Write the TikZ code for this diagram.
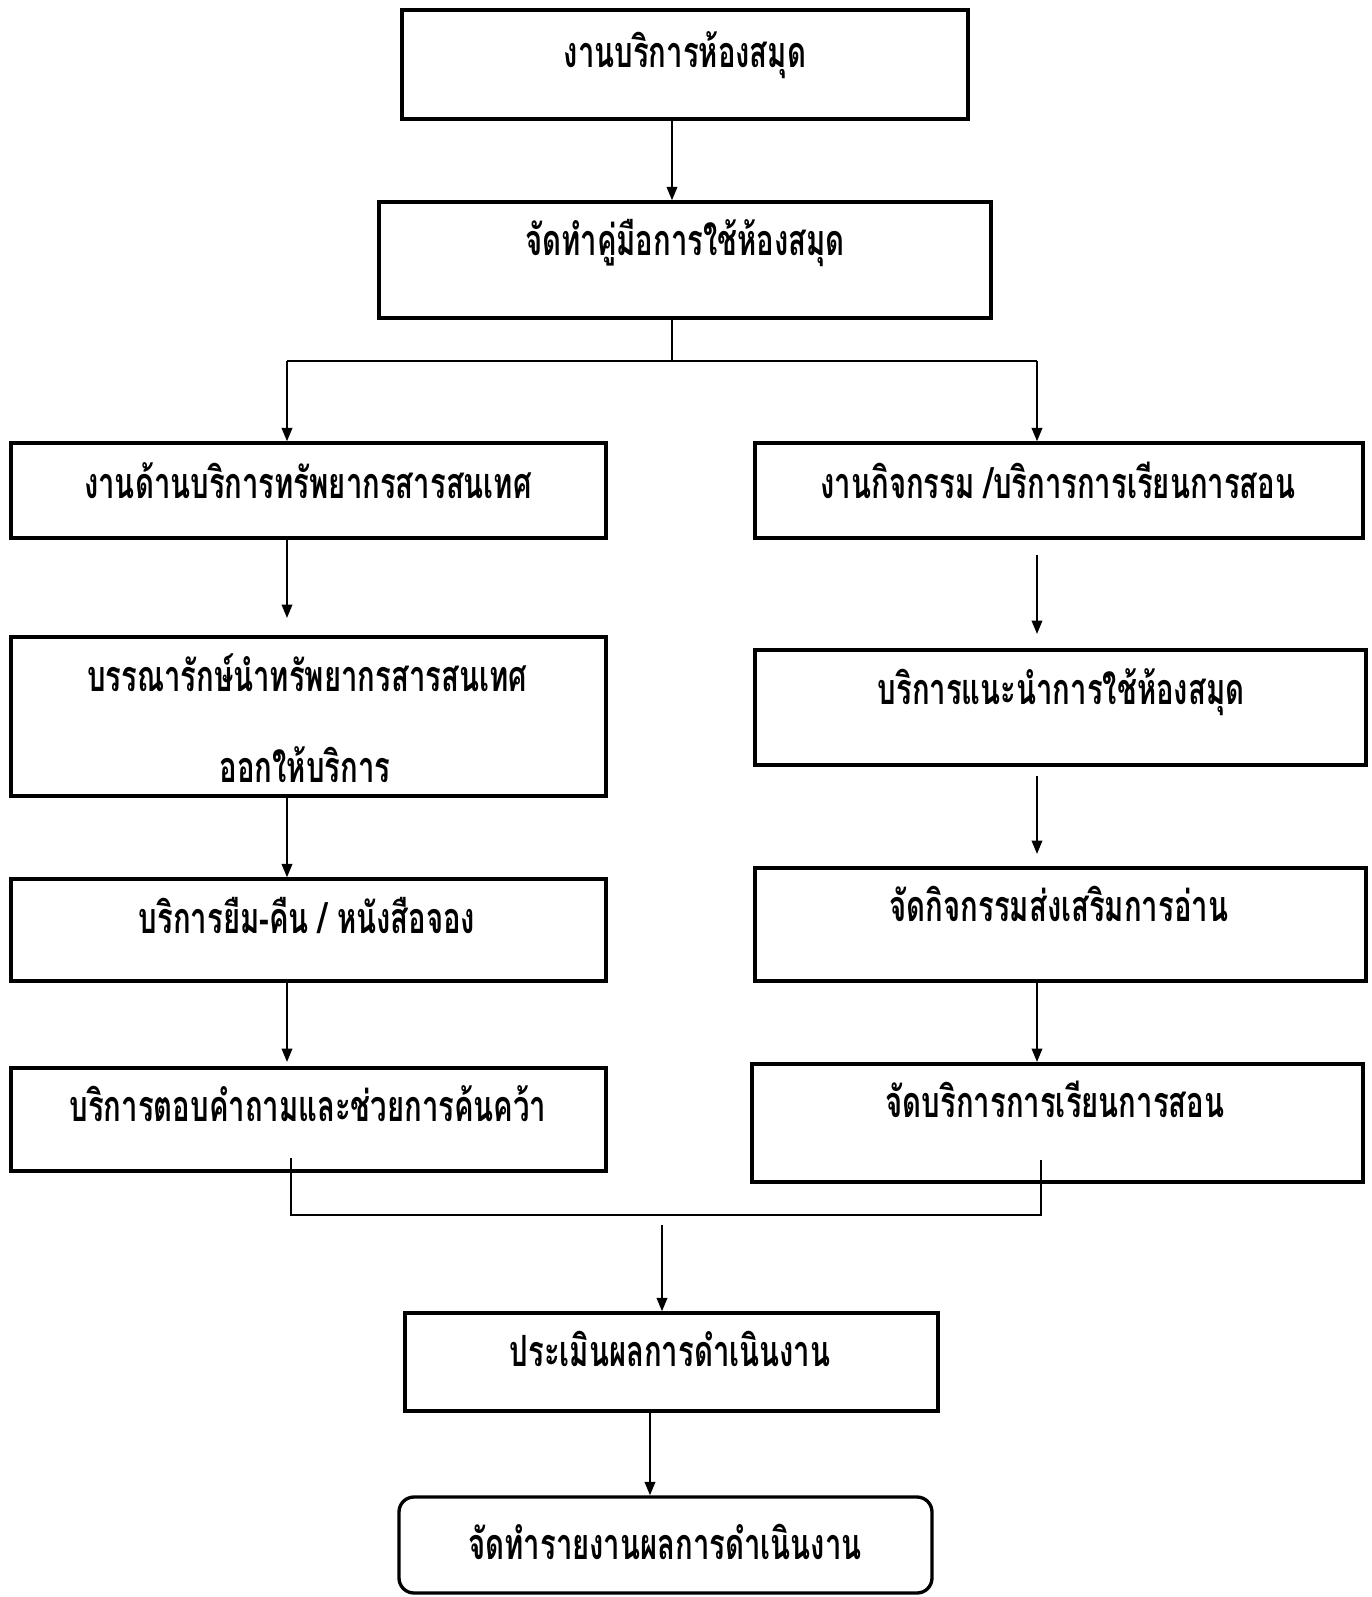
\documentclass[tikz,border=0pt]{standalone}
\usepackage{fontspec}
\newfontfamily\thaifont[Script=Thai,FakeStretch=0.68]{Loma}
\usetikzlibrary{arrows.meta,fit}
\begin{document}
\begin{tikzpicture}[x=0.02cm,y=-0.02cm,
  box/.style={draw, line width=1.9pt, inner sep=0pt},
  lbl/.style={font=\thaifont\bfseries\fontsize{24.5}{28}\selectfont, inner sep=0pt, anchor=base},
  arr/.style={line width=1.25pt, -{Triangle[length=0.27cm,width=0.21cm]}},
  ln/.style={line width=1.25pt}]
\useasboundingbox (0,0) rectangle (1372,1597);
% boxes
\node[box, fit={(402,10)(968,119)}] (b1) {};
\node[box, fit={(379,202)(991,318)}] (b2) {};
\node[box, fit={(11,443)(606,538)}] (l1) {};
\node[box, fit={(11,637)(606,796)}] (l2) {};
\node[box, fit={(11,879)(606,981)}] (l3) {};
\node[box, fit={(11,1068)(606,1171)}] (l4) {};
\node[box, fit={(755,443)(1363,538)}] (r1) {};
\node[box, fit={(755,650)(1366,765)}] (r2) {};
\node[box, fit={(755,868)(1366,981)}] (r3) {};
\node[box, fit={(752,1064)(1363,1182)}] (r4) {};
\node[box, fit={(405,1313)(938,1411)}] (ev) {};
\node[box, rounded corners=0.3cm, fit={(399,1497)(932,1593)}] (rp) {};
% labels
\node[lbl] (t1) at (685,67) {งานบริการห้องสมุด};
\node[lbl] (t2) at (685,255) {จัดทำคู่มือการใช้ห้องสมุด};
\node[lbl] (tl1) at (308,498) {งานด้านบริการทรัพยากรสารสนเทศ};
\node[lbl] (tl2a) at (307,691) {บรรณารักษ์นำทรัพยากรสารสนเทศ};
\node[lbl] (tl2b) at (305,782) {ออกให้บริการ};
\node[lbl] (tl3) at (307,933) {บริการยืม-คืน / หนังสือจอง};
\node[lbl] (tl4) at (308,1121) {บริการตอบคำถามและช่วยการค้นคว้า};
\node[lbl] (tr1) at (1058,498) {งานกิจกรรม /บริการการเรียนการสอน};
\node[lbl] (tr2) at (1061,704) {บริการแนะนำการใช้ห้องสมุด};
\node[lbl] (tr3) at (1059,921) {จัดกิจกรรมส่งเสริมการอ่าน};
\node[lbl] (tr4) at (1055,1117) {จัดบริการการเรียนการสอน};
\node[lbl] (te) at (670,1366) {ประเมินผลการดำเนินงาน};
\node[lbl] (tf) at (665,1559) {จัดทำรายงานผลการดำเนินงาน};
% connectors
\coordinate (xa) at (672,0);
\coordinate (jl) at (287,361);
\coordinate (jr) at (1037,361);
\coordinate (jm) at (672,361);
\draw[arr] (xa |- b1.south) -- (xa |- b2.north);
\draw[ln] (xa |- b2.south) -- (jm);
\draw[ln] (jl) -- (jr);
\draw[arr] (jl) -- (jl |- l1.north);
\draw[arr] (jr) -- (jr |- r1.north);
% left column
\coordinate (xl) at (287,0);
\coordinate (al2) at (287,618);
\draw[arr] (xl |- l1.south) -- (al2);
\draw[arr] (xl |- l2.south) -- (xl |- l3.north);
\coordinate (al4) at (287,1062);
\draw[arr] (xl |- l3.south) -- (al4);
% right column
\coordinate (ar1s) at (1037,555);
\coordinate (ar1e) at (1037,634);
\draw[arr] (ar1s) -- (ar1e);
\coordinate (ar2s) at (1037,776);
\coordinate (ar2e) at (1037,854);
\draw[arr] (ar2s) -- (ar2e);
\coordinate (xr) at (1037,0);
\coordinate (ar3e) at (1037,1062);
\draw[arr] (xr |- r3.south) -- (ar3e);
% join
\coordinate (jl1) at (291,1158);
\coordinate (jl2) at (291,1215);
\coordinate (jr2) at (1041,1215);
\coordinate (jr1) at (1041,1160);
\draw[ln] (jl1) -- (jl2) -- (jr2) -- (jr1);
\coordinate (ae) at (662,1225);
\draw[arr] (ae) -- (ae |- ev.north);
\coordinate (xf) at (650,0);
\draw[arr] (xf |- ev.south) -- (xf |- rp.north);
\end{tikzpicture}
\end{document}
